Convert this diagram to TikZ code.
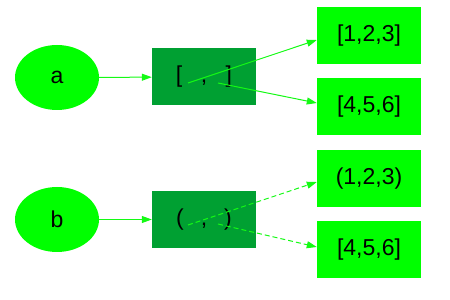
\documentclass[tikz,border=0pt]{standalone}
\usepackage{fontspec}
\setmainfont{Liberation Sans}
\usetikzlibrary{arrows.meta,shapes.geometric}
\definecolor{limegreen}{RGB}{0,255,0}
\definecolor{darkbox}{RGB}{0,160,50}
\definecolor{linkgreen}{RGB}{20,250,20}
\begin{document}
\begin{tikzpicture}[
    x=1pt,y=1pt,
    varnode/.style={
        ellipse,
        fill=limegreen,
        minimum width=84pt,
        minimum height=65pt,
        inner sep=0pt,
        font=\fontsize{23}{27}\selectfont
    },
    holder/.style={
        rectangle,
        fill=darkbox,
        minimum width=104pt,
        minimum height=57pt,
        inner sep=0pt,
        font=\fontsize{23}{27}\selectfont
    },
    value/.style={
        rectangle,
        fill=limegreen,
        minimum width=104pt,
        minimum height=57pt,
        inner sep=0pt,
        font=\fontsize{23}{27}\selectfont
    },
    link/.style={
        draw=linkgreen,
        line width=1pt,
        -{Triangle[length=10pt,width=7pt,fill=linkgreen]}
    },
    dlink/.style={link,dash pattern=on 5pt off 3pt}
]

\useasboundingbox (0,0) rectangle (450,300);

\node[varnode] (a) at (57,222.5) {a};
\node[holder] (lst) at (204,223) {[\hspace{18.5pt},\hspace{18.5pt}]};
\node[value] (v1) at (369,264) {[1,2,3]};
\node[value] (v2) at (369,193) {[4,5,6]};

\coordinate (lst1) at ([xshift=-16pt,yshift=-6pt]lst.center);
\coordinate (lst2) at ([xshift=14pt,yshift=-6pt]lst.center);

\draw[link] (a) -- (lst);
\draw[link] (lst1) -- ([yshift=-4pt]v1.west);
\draw[link] (lst2) -- ([yshift=4pt]v2.west);

\node[varnode] (b) at (57,80.5) {b};
\node[holder] (tpl) at (204,80.5) {(\hspace{17pt},\hspace{17pt})};
\node[value] (w1) at (369,121.5) {(1,2,3)};
\node[value] (w2) at (369,50.5) {[4,5,6]};

\coordinate (tpl1) at ([xshift=-16pt,yshift=-5.5pt]tpl.center);
\coordinate (tpl2) at ([xshift=14pt,yshift=-4.5pt]tpl.center);

\draw[link] (b) -- (tpl);
\draw[dlink] (tpl1) -- ([yshift=-3.5pt]w1.west);
\draw[dlink] (tpl2) -- ([yshift=2.5pt]w2.west);

\end{tikzpicture}
\end{document}
